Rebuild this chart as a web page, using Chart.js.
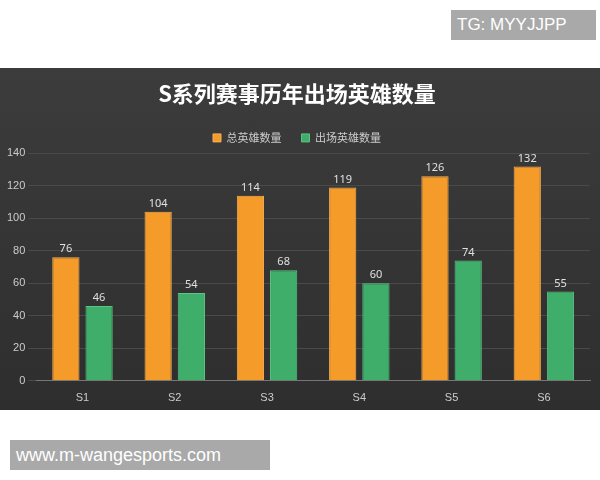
<!DOCTYPE html>
<html><head><meta charset="utf-8">
<script src="https://cdn.jsdelivr.net/npm/chart.js@4"></script>
<style>
body{margin:0;width:600px;height:480px;background:#fff;position:relative;overflow:hidden;font-family:"Noto Sans CJK SC","Noto Sans",sans-serif}
#wrap{position:absolute;left:0;top:68px;width:600px;height:342px;background:linear-gradient(#3c3c3c,#2e2e2e)}
.tag{position:absolute;background:#a9a9a9;color:#fff;font-family:"Liberation Sans",Arial,sans-serif}
</style></head><body>
<div class="tag" style="left:451px;top:10px;width:139px;height:30px;line-height:30px;font-size:17px;padding-left:6px">TG: MYYJJPP</div>
<div id="wrap"><canvas id="c"></canvas></div>
<div class="tag" style="left:10px;top:440px;width:254px;height:30px;line-height:30px;font-size:18px;padding-left:6px">www.m-wangesports.com</div>
<script>
const categories = ["S1", "S2", "S3", "S4", "S5", "S6"];
const totalHeroes = [76, 104, 114, 119, 126, 132];
const usedHeroes = [46, 54, 68, 60, 74, 55];

const valueLabels = {
  id: "valueLabels",
  afterDatasetsDraw(chart) {
    const ctx = chart.ctx;
    ctx.save();
    ctx.fillStyle = "#e0e0e0";
    ctx.font = "11px 'Noto Sans'";
    ctx.textAlign = "center";
    chart.data.datasets.forEach((ds, i) => {
      chart.getDatasetMeta(i).data.forEach((bar, j) => {
        ctx.fillText(ds.data[j], bar.x, bar.y - 8);
      });
    });
    ctx.restore();
  }
};

new Chart(document.getElementById("c"), {
  type: "bar",
  data: {
    labels: categories,
    datasets: [
      { label: "总英雄数量", data: totalHeroes, backgroundColor: "#f59b2a", borderColor: "#f7b155", borderWidth: 1 },
      { label: "出场英雄数量", data: usedHeroes, backgroundColor: "#3fae6a", borderColor: "#5cc484", borderWidth: 1 }
    ]
  },
  options: {
    responsive: true,
    maintainAspectRatio: false,
    animation: false,
    layout: { padding: { left: 4, right: 10, bottom: 2 } },
    datasets: { bar: { categoryPercentage: 0.72, barPercentage: 0.82 } },
    plugins: {
      title: { display: true, text: "S系列赛事历年出场英雄数量", color: "#fff", font: { size: 22, weight: "bold", family: "Noto Sans CJK SC" }, padding: { top: 12, bottom: 6 } },
      legend: { labels: { color: "#ccc", boxWidth: 8, boxHeight: 8, padding: 20, font: { size: 11, family: "Noto Sans CJK SC" } } },
      tooltip: { enabled: false }
    },
    scales: {
      x: { grid: { display: false }, border: { color: "#777" }, ticks: { color: "#ccc", font: { size: 11 } } },
      y: { min: 0, max: 140, ticks: { stepSize: 20, color: "#ccc", font: { size: 11 } }, grid: { color: "#4a4a4a" }, border: { display: false } }
    }
  },
  plugins: [valueLabels]
});
</script>
</body></html>
